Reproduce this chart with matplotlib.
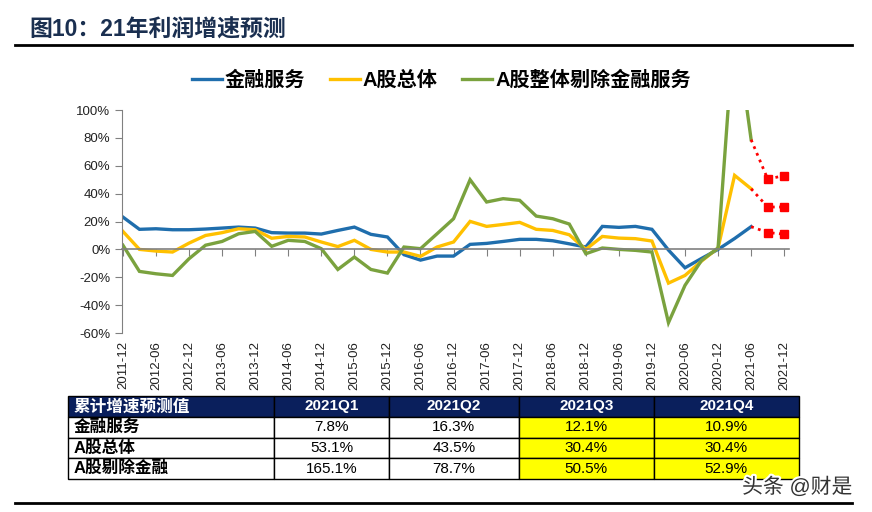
import numpy as np
import matplotlib
matplotlib.use("Agg")
import matplotlib.pyplot as plt
import matplotlib.patheffects as pe
from matplotlib.ticker import FuncFormatter

plt.rcParams['font.family'] = ['Liberation Sans', 'Noto Sans CJK SC', 'DejaVu Sans']

# quarterly, 2011-12 ... 2021-06 (actual)
fin = [23.2, 14.4, 14.8, 14.1, 14.1, 14.6, 15.3, 16.0, 15.3, 12.0,
       11.7, 11.7, 11.0, 13.6, 16.0, 10.8, 8.9, -3.8, -7.7, -4.8,
       -4.8, 3.6, 4.3, 5.7, 7.2, 7.2, 6.2, 4.0, 1.7, 16.5,
       15.8, 16.5, 14.4, -0.5, -13.2, -6.5, 0.0, 7.8, 16.3]
total = [12.9, 0.0, -1.2, -1.9, 4.5, 10.0, 12.0, 14.8, 14.1, 8.0,
         9.3, 8.9, 5.3, 2.0, 6.5, 0.0, -1.9, -1.9, -5.0, 1.7,
         5.3, 20.1, 16.5, 17.9, 19.4, 14.4, 13.6, 10.5, 0.0, 9.3,
         8.1, 7.7, 6.0, -24.2, -18.7, -8.4, 1.0, 53.1, 43.5]
ex_fin = [3.0, -15.8, -17.5, -18.7, -6.7, 3.0, 5.7, 11.2, 12.9, 2.2,
          6.5, 5.7, 0.5, -14.4, -5.5, -14.4, -17.0, 1.7, 0.5, 11.2,
          22.0, 50.0, 34.0, 36.4, 35.2, 23.9, 22.0, 18.2, -3.1, 1.0,
          0.0, -0.7, -1.9, -52.6, -25.8, -7.9, 1.0, 165.1, 78.7]

# forecasts 2021Q3, 2021Q4
fc_fin = [12.1, 10.9]
fc_total = [30.4, 30.4]
fc_ex = [50.5, 52.9]

quarters = []
for y in range(2011, 2022):
    for m in ['03', '06', '09', '12']:
        quarters.append(f'{y}-{m}')
quarters = quarters[quarters.index('2011-12'):]  # 41 quarters up to 2021-12

series_names = ['金融服务', 'A股总体', 'A股整体剔除金融服务']
colors = ['#1F6EAD', '#FFC000', '#7AA23E']

table_cols = ['累计增速预测值', '2021Q1', '2021Q2', '2021Q3', '2021Q4']
table_rows = ['金融服务', 'A股总体', 'A股剔除金融']
table_vals = [['7.8%', '16.3%', '12.1%', '10.9%'],
              ['53.1%', '43.5%', '30.4%', '30.4%'],
              ['165.1%', '78.7%', '50.5%', '52.9%']]

fig = plt.figure(figsize=(8.72, 5.12), dpi=100)

# title and rules
fig.text(0.034, 0.942, '图10：21年利润增速预测', fontsize=16.5, fontweight='bold',
         color='#1A2F50', va='center', ha='left')
fig.add_artist(plt.Line2D([0.017, 0.977], [0.912, 0.912], color='black', lw=2))
fig.add_artist(plt.Line2D([0.017, 0.977], [0.017, 0.017], color='black', lw=2))

ax = fig.add_axes([0.140, 0.3496, 0.765, 0.4355])
x = np.arange(len(fin))
for vals, c, name in zip([fin, total, ex_fin], colors, series_names):
    ax.plot(x, vals, color=c, lw=2.4, label=name, solid_joinstyle='miter')

last = len(fin) - 1
xf = [last, last + 1, last + 2]
for vals, fc in zip([fin, total, ex_fin], [fc_fin, fc_total, fc_ex]):
    ax.plot(xf, [vals[-1]] + fc, color='red', lw=2, ls=(0, (1, 1.6)),
            marker='s', ms=6, markevery=[1, 2])

ax.set_ylim(-60, 100)
ax.set_xlim(-0.05, 40.3)
ax.set_yticks(np.arange(-60, 101, 20))
ax.yaxis.set_major_formatter(FuncFormatter(lambda v, p: f'{v:.0f}%'))
ax.tick_params(axis='y', labelsize=9.5, length=5, color='#808080', labelcolor='#222222')

ax.spines['top'].set_visible(False)
ax.spines['right'].set_visible(False)
ax.spines['left'].set_color('#808080')
ax.spines['bottom'].set_position(('data', 0))
ax.spines['bottom'].set_color('#808080')
ax.spines['bottom'].set_linewidth(1.2)
ax.set_xticks(np.arange(0, len(quarters), 2))
ax.tick_params(axis='x', labelbottom=False, length=5, color='#808080')

sec = ax.secondary_xaxis(0)
sec.set_xticks(np.arange(0, len(quarters), 2))
sec.set_xticklabels(quarters[::2], rotation=90, fontsize=9.5, color='#222222')
sec.tick_params(length=0, pad=6)
sec.spines['bottom'].set_visible(False)

fig.legend(loc='center', bbox_to_anchor=(0.506, 0.844), ncol=3, frameon=False,
           prop={'size': 14.5, 'weight': 'bold'}, handlelength=1.5,
           handletextpad=0.15, columnspacing=1.2)

# table
tax = fig.add_axes([0.078, 0.0645, 0.838, 0.162])
tax.axis('off')
cells = [[table_rows[i]] + table_vals[i] for i in range(len(table_rows))]
widths = np.array([206, 115, 130, 135, 145], dtype=float)
cell_colors = [['white', 'white', 'white', '#FFFF00', '#FFFF00'] for _ in table_rows]
tb = tax.table(cellText=cells, colLabels=table_cols, cellColours=cell_colors,
               colColours=['#0A1F5C'] * 5, colWidths=list(widths / widths.sum()),
               bbox=[0, 0, 1, 1], cellLoc='center')
tb.auto_set_font_size(False)
for (r, c), cell in tb.get_celld().items():
    cell.set_edgecolor('black')
    cell.set_linewidth(1)
    t = cell.get_text()
    t.set_fontsize(11)
    if r == 0:
        t.set_color('white')
        t.set_fontweight('bold')
    if c == 0:
        t.set_ha('left')
        cell.PAD = 0.025
        t.set_fontweight('bold')
        t.set_fontsize(12)

fig.text(0.851, 0.049, '头条 @财是', fontsize=15, color='#333333', ha='left', va='center',
         path_effects=[pe.withStroke(linewidth=3, foreground='white')])

fig.savefig('out.png', dpi=100)
